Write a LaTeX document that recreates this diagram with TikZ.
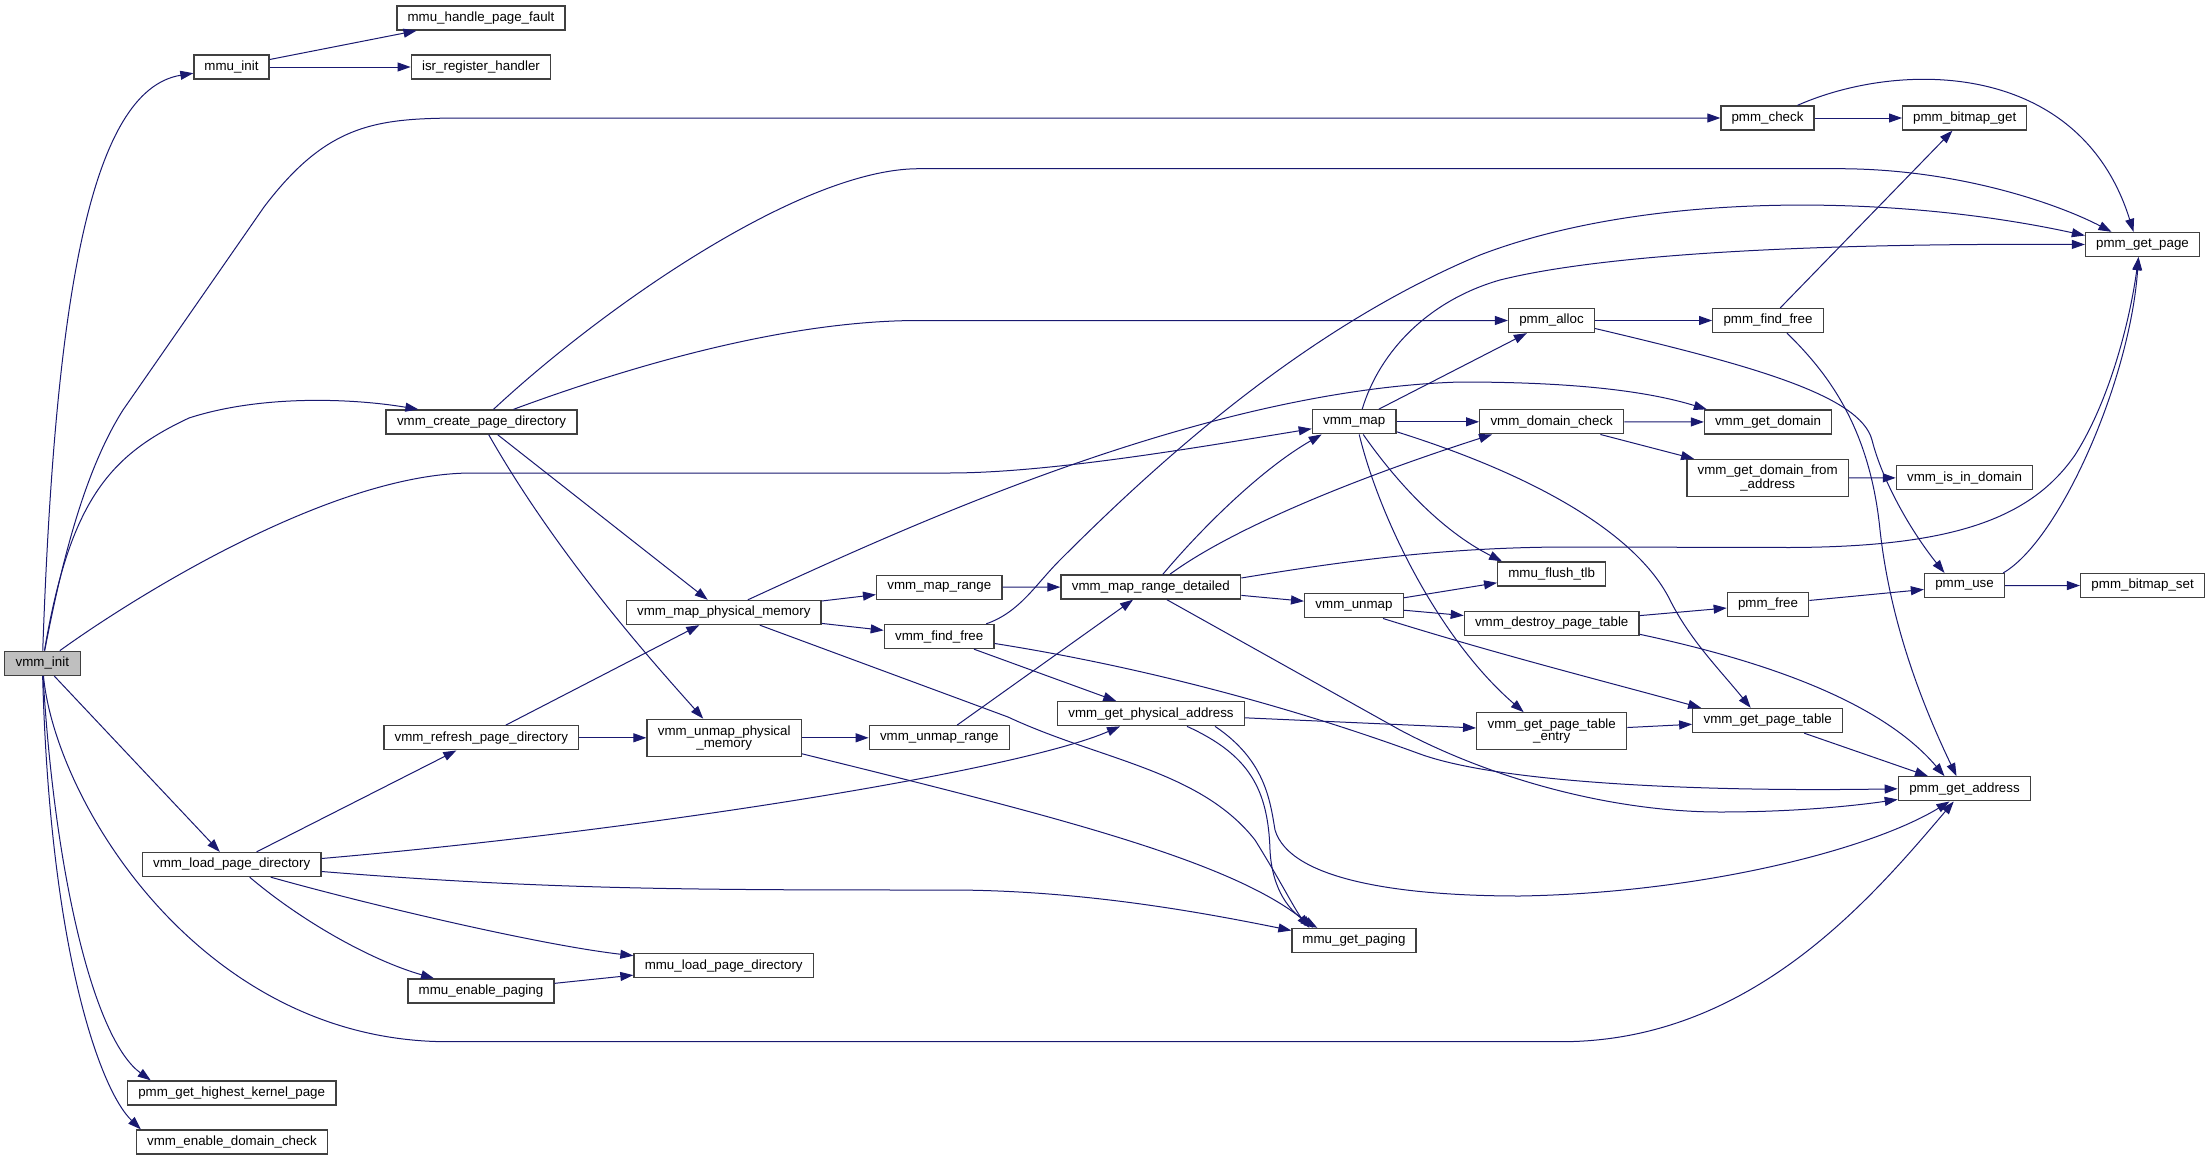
\documentclass[tikz,border=0pt]{standalone}
\usepackage{fontspec}
\setmainfont{Liberation Sans}
\usetikzlibrary{arrows.meta,calc}
\definecolor{edgecol}{HTML}{191970}
\definecolor{nodeborder}{HTML}{404040}
\definecolor{rootfill}{HTML}{BFBFBF}
\newcommand\mkbox[6][]{\node[box,#1,minimum width=#5*0.75pt] (#2) at (#3,#4) {#6};}
\begin{document}
\begin{tikzpicture}[x=0.75pt,y=-0.75pt,
  box/.style={draw=nodeborder,fill=white,line width=1pt,inner sep=0pt,
    minimum height=18pt,align=center,font=\fontsize{10pt}{9pt}\selectfont},
  twoline/.style={minimum height=27.75pt},
  call/.style={draw=edgecol,line width=0.75pt,-{Triangle[length=9.75pt,width=6.75pt]}}]
\fill[white] (0,0) rectangle (2210,1160);
\useasboundingbox (0,0) rectangle (2210,1160);
% nodes
\mkbox[fill=rootfill]{vinit}{42.3}{663.3}{76}{vmm\_init}
\mkbox{mmuinit}{231.5}{67}{75}{mmu\_init}
\mkbox{mhpf}{481}{18}{168}{mmu\_handle\_page\_fault}
\mkbox{isr}{481}{67}{139.5}{isr\_register\_handler}
\mkbox{vcpd}{481.5}{422}{191}{vmm\_create\_page\_directory}
\mkbox{vrpd}{481.3}{737.8}{194.6}{vmm\_refresh\_page\_directory}
\mkbox{vlpd}{231.7}{864.5}{178.5}{vmm\_load\_page\_directory}
\mkbox{mep}{481}{991}{146}{mmu\_enable\_paging}
\mkbox{phkp}{231.7}{1093}{208.6}{pmm\_get\_highest\_kernel\_page}
\mkbox{vedc}{232}{1142}{191}{vmm\_enable\_domain\_check}
\mkbox{vmpm}{723.8}{612.5}{194.3}{vmm\_map\_physical\_memory}
\mkbox[twoline]{vupm}{724.2}{737.8}{154.3}{vmm\_unmap\_physical\\\_memory}
\mkbox{vmr}{939.3}{587.2}{125.3}{vmm\_map\_range}
\mkbox{vff}{939.2}{636.5}{109.7}{vmm\_find\_free}
\mkbox{vur}{939.3}{737.8}{140}{vmm\_unmap\_range}
\mkbox{mlpd}{723.7}{965.7}{179.4}{mmu\_load\_page\_directory}
\mkbox{vmrd}{1150.8}{587}{179.7}{vmm\_map\_range\_detailed}
\mkbox{vgpa}{1151}{713.7}{186.5}{vmm\_get\_physical\_address}
\mkbox{mgp}{1354}{940.5}{124}{mmu\_get\_paging}
\mkbox{vmap}{1354.2}{421.8}{83.7}{vmm\_map}
\mkbox{vunmap}{1354}{605.8}{98.7}{vmm\_unmap}
\mkbox{vdc}{1551.7}{421.8}{144}{vmm\_domain\_check}
\mkbox{mft}{1551.7}{574}{108}{mmu\_flush\_tlb}
\mkbox{vdpt}{1551.7}{623.3}{174.7}{vmm\_destroy\_page\_table}
\mkbox[twoline]{vgpte}{1551.7}{731.3}{150}{vmm\_get\_page\_table\\\_entry}
\mkbox{palloc}{1551.5}{320.5}{85.8}{pmm\_alloc}
\mkbox{pcheck}{1767.5}{118}{93}{pmm\_check}
\mkbox{pff}{1768}{320.5}{110.5}{pmm\_find\_free}
\mkbox{vgd}{1768}{422}{127}{vmm\_get\_domain}
\mkbox[twoline]{vgdfa}{1767.7}{478}{161.4}{vmm\_get\_domain\_from\\\_address}
\mkbox{pfree}{1768}{604.4}{81.4}{pmm\_free}
\mkbox{vgpt}{1767.7}{720.5}{149.8}{vmm\_get\_page\_table}
\mkbox{pbg}{1964.7}{118}{124}{pmm\_bitmap\_get}
\mkbox{viid}{1964.5}{477.8}{136.2}{vmm\_is\_in\_domain}
\mkbox{puse}{1964.5}{585.6}{80}{pmm\_use}
\mkbox{pga}{1964.5}{788.8}{132.3}{pmm\_get\_address}
\mkbox{pgp}{2142.5}{244.5}{114}{pmm\_get\_page}
\mkbox{pbs}{2142.6}{585.5}{124}{pmm\_bitmap\_set}
% edges
\draw[call] (mmuinit) -- (mhpf);
\draw[call] (mmuinit) -- (isr);
\draw[call] (vinit) .. controls (55,300) and (90,90) .. (mmuinit);
\draw[call] (vinit) .. controls (62,560) and (85,470) .. (123,410) -- (264,207) .. controls (330,120) and (380,118) .. (472,118) -- (pcheck);
\draw[call] (vinit) .. controls (70,500) and (110,455) .. (189,418) .. controls (260,395) and (350,398) .. ($(vcpd.north west)+(33,0)$);
\draw[call] (vinit) .. controls (130,600) and (330,473) .. (472,473) -- (949,473) .. controls (1050,473) and (1200,447) .. (vmap);
\draw[call] (vinit) -- (vlpd);
\draw[call] (vinit) .. controls (55,800) and (200,1041.7) .. (448,1041.7) -- (1561,1041.7) .. controls (1750,1041.7) and (1870,900) .. (pga);
\draw[call] (vinit) .. controls (55,880) and (95,1040) .. ($(phkp.north west)+(24,0)$);
\draw[call] (vinit) .. controls (50,950) and (100,1090) .. ($(vedc.north west)+(5,0)$);
% vcpd
\draw[call] ($(vcpd.north)+(12,0)$) .. controls (600,310) and (800,168.7) .. (919,168.7) -- (1838,168.7) .. controls (1960,168.7) and (2060,205) .. ($(pgp.north)+(-31,0)$);
\draw[call] ($(vcpd.north)+(32,0)$) .. controls (620,370) and (780,320.5) .. (919,320.5) -- (palloc);
\draw[call] (vcpd) -- (vmpm);
\draw[call] (vcpd) .. controls (560,560) and (660,670) .. ($(vupm.north)+(-21,0)$);
% vrpd
\draw[call] (vrpd) -- (vmpm);
\draw[call] (vrpd) -- (vupm);
% vlpd
\draw[call] (vlpd) -- (vrpd);
\draw[call] ($(vlpd.east)+(0,-6)$) .. controls (650,830) and (1020,770) .. ($(vgpa.south)+(-31,0)$);
\draw[call] ($(vlpd.east)+(0,7)$) .. controls (550,890) and (700,890) .. (949,890) .. controls (1080,890) and (1200,912) .. ($(mgp.west)+(0,-10)$);
\draw[call] ($(vlpd.south)+(39,0)$) .. controls (370,905) and (540,945) .. ($(mlpd.west)+(0,-10)$);
\draw[call] ($(vlpd.south)+(18,0)$) .. controls (300,920) and (370,960) .. ($(mep.north)+(-47,0)$);
\draw[call] (mep) -- (mlpd);
% vmpm
\draw[call] (vmpm) -- (vmr);
\draw[call] (vmpm) -- (vff);
\draw[call] ($(vmpm.south)+(36,0)$) -- (1008,717) .. controls (1100,760) and (1200,770) .. (1255,840) .. controls (1280,880) and (1295,910) .. ($(mgp.north west)+(18,0)$);
\draw[call] ($(vmpm.north)+(24,0)$) .. controls (900,530) and (1200,390) .. (1460,382) .. controls (1580,382) and (1650,392) .. ($(vgd.north west)+(3,0)$);
% vmr, vff
\draw[call] (vmr) -- (vmrd);
\draw[call] (vff) -- (vgpa);
\draw[call] ($(vff.north)+(47,0)$) .. controls (1020,612) and (1035,585) .. (1060,560) .. controls (1150,470) and (1300,330) .. (1480,255) .. controls (1650,190) and (1900,195) .. ($(pgp.west)+(0,-9)$);
\draw[call] ($(vff.east)+(0,7)$) .. controls (1150,668) and (1300,710) .. (1420,754) .. controls (1500,783) and (1700,792) .. (pga.west);
% vupm, vur
\draw[call] (vur) -- (vmrd);
\draw[call] (vupm) -- (vur);
\draw[call] ($(vupm.east)+(0,16)$) .. controls (1050,815) and (1230,860) .. ($(mgp.north west)+(22,0)$);
% vgpa
\draw[call] ($(vgpa.south)+(36,0)$) .. controls (1250,755) and (1268,790) .. (1270,850) .. controls (1272,890) and (1290,912) .. ($(mgp.north west)+(26,0)$);
\draw[call] ($(vgpa.south)+(64,0)$) .. controls (1265,760) and (1270,800) .. (1275,830) .. controls (1290,880) and (1400,896) .. (1520,896) .. controls (1700,893) and (1870,850) .. ($(pga.south)+(-15,0)$);
\draw[call] (vgpa) -- (vgpte);
% vmrd
\draw[call] (vmrd) -- (vunmap);
\draw[call] ($(vmrd.north)+(12,0)$) .. controls (1200,530) and (1260,470) .. ($(vmap.south west)+(10,0)$);
\draw[call] ($(vmrd.north)+(19,0)$) .. controls (1230,530) and (1350,480) .. ($(vdc.south west)+(13,0)$);
\draw[call] ($(vmrd.east)+(0,-9)$) .. controls (1350,560) and (1450,547) .. (1570,547) -- (1789,547.5) .. controls (1950,547) and (2030,520) .. (2075,455) .. controls (2110,400) and (2130,320) .. ($(pgp.south)+(-4,0)$);
\draw[call] ($(vmrd.south)+(16,0)$) -- (1400,730) .. controls (1500,783) and (1620,812) .. (1720,812) .. controls (1800,812) and (1860,805) .. ($(pga.south west)+(0,-2)$);
% vmap
\draw[call] ($(vmap.north)+(8,0)$) .. controls (1380,350) and (1430,300) .. (1500,280) .. controls (1600,255) and (1800,243) .. (pgp.west);
\draw[call] (vmap) -- (palloc);
\draw[call] (vmap) -- (vdc);
\draw[call] ($(vmap.south)+(9,0)$) .. controls (1395,480) and (1440,530) .. ($(mft.north west)+(5,0)$);
\draw[call] ($(vmap.south)+(5,0)$) .. controls (1380,520) and (1440,640) .. ($(vgpte.north)+(-28,0)$);
\draw[call] ($(vmap.east)+(0,10)$) .. controls (1550,480) and (1640,540) .. (1670,600) .. controls (1690,640) and (1720,670) .. ($(vgpt.north)+(-17,0)$);
% vunmap
\draw[call] (vunmap) -- (mft);
\draw[call] (vunmap) -- (vdpt);
\draw[call] ($(vunmap.south)+(29,0)$) .. controls (1500,655) and (1600,680) .. ($(vgpt.north west)+(9,0)$);
% vdpt, pfree, puse
\draw[call] (vdpt) -- (pfree);
\draw[call] ($(vdpt.east)+(0,11)$) .. controls (1760,660) and (1880,700) .. ($(pga.north)+(-20,0)$);
\draw[call] (pfree) -- (puse);
\draw[call] (puse) -- (pbs);
\draw[call] ($(puse.north east)+(-2,0)$) .. controls (2060,540) and (2130,380) .. ($(pgp.south)+(-4,0)$);
% palloc, pff, pcheck
\draw[call] (palloc) -- (pff);
\draw[call] ($(palloc.east)+(0,8)$) .. controls (1750,365) and (1860,395) .. (1872,440) .. controls (1882,480) and (1910,530) .. ($(puse.north)+(-20,0)$);
\draw[call] (pff) -- (pbg);
\draw[call] ($(pff.south)+(19,0)$) .. controls (1830,375) and (1870,430) .. (1880,530) .. controls (1890,620) and (1920,700) .. ($(pga.north)+(-8,0)$);
\draw[call] (pcheck) -- (pbg);
\draw[call] ($(pcheck.north)+(30,0)$) .. controls (1900,60) and (2080,60) .. ($(pgp.north)+(-9,0)$);
% domain
\draw[call] (vdc) -- (vgd);
\draw[call] (vdc) -- (vgdfa);
\draw[call] (vgdfa) -- (viid);
\draw[call] (vgpte) -- (vgpt);
\draw[call] (vgpt) -- (pga);
\end{tikzpicture}
\end{document}
